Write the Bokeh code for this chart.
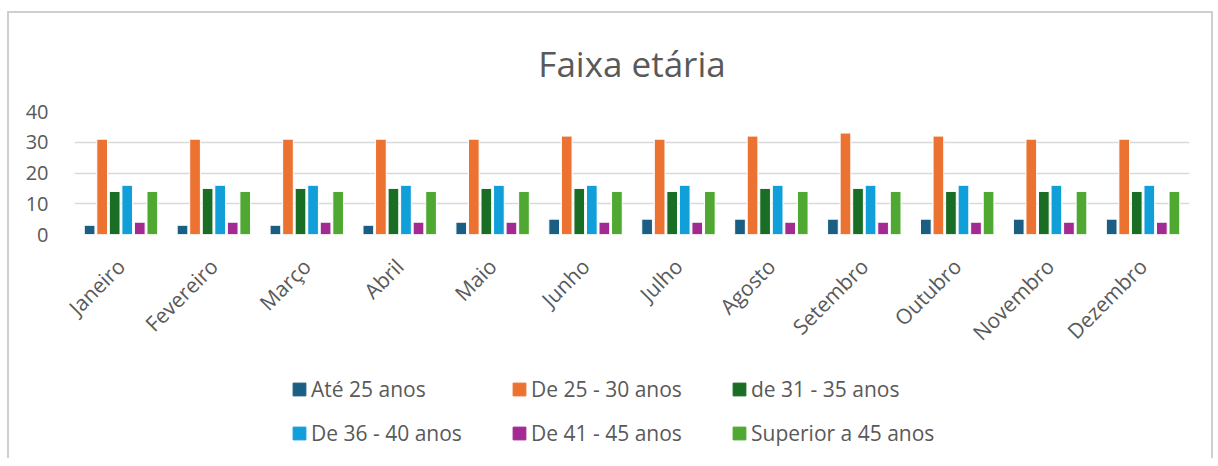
import math
from bokeh.plotting import figure
from bokeh.layouts import column
from bokeh.models import FactorRange, FixedTicker, Range1d, Legend, LegendItem
from bokeh.transform import dodge
from bokeh.embed import file_html
from bokeh.resources import INLINE

months = ["Janeiro", "Fevereiro", "Março", "Abril", "Maio", "Junho", "Julho",
          "Agosto", "Setembro", "Outubro", "Novembro", "Dezembro"]

series_names = ["Até 25 anos", "De 25 - 30 anos", "de 31 - 35 anos",
                "De 36 - 40 anos", "De 41 - 45 anos", "Superior a 45 anos"]

ate_25 = [3, 3, 3, 3, 4, 5, 5, 5, 5, 5, 5, 5]
de_25_30 = [31, 31, 31, 31, 31, 32, 31, 32, 33, 32, 31, 31]
de_31_35 = [14, 15, 15, 15, 15, 15, 14, 15, 15, 14, 14, 14]
de_36_40 = [16, 16, 16, 16, 16, 16, 16, 16, 16, 16, 16, 16]
de_41_45 = [4, 4, 4, 4, 4, 4, 4, 4, 4, 4, 4, 4]
sup_45 = [14, 14, 14, 14, 14, 14, 14, 14, 14, 14, 14, 14]

y_ticks = [0, 10, 20, 30, 40]

colors = ["#1b5e84", "#ec7232", "#1a6d25", "#109fd8", "#a32a93", "#4fa832"]
series = [ate_25, de_25_30, de_31_35, de_36_40, de_41_45, sup_45]
keys = ["s0", "s1", "s2", "s3", "s4", "s5"]

data = {"month": months}
for k, s in zip(keys, series):
    data[k] = s

TXT = "#595959"
FONT = "Open Sans"
BORDER = "2px solid #cfcfcf"

# ---- main chart ----
p = figure(x_range=FactorRange(factors=months), y_range=(0, 40),
           width=1206, height=346, output_backend="svg", toolbar_location=None,
           min_border_left=65, min_border_right=26, min_border_top=98,
           min_border_bottom=120, title="Faixa etária")
p.styles = {"border-left": BORDER, "border-top": BORDER, "border-right": BORDER}

step = 0.135
for i, (k, c) in enumerate(zip(keys, colors)):
    p.vbar(x=dodge("month", (i - 2.5) * step, range=p.x_range), top=k, width=0.115,
           source=data, fill_color=c, line_color="white", line_width=1)

p.title.align = "center"
p.title.text_font = FONT
p.title.text_font_size = "35px"
p.title.text_font_style = "normal"
p.title.text_color = TXT
p.title.standoff = 49

p.outline_line_color = None
p.xgrid.grid_line_color = None
p.ygrid.grid_line_color = "#d9d9d9"
p.ygrid.grid_line_width = 1.6
p.yaxis.ticker = FixedTicker(ticks=y_ticks)
p.yaxis.axis_line_color = None
p.yaxis.major_tick_line_color = None
p.yaxis.minor_tick_line_color = None
p.yaxis.major_label_standoff = 20
p.yaxis.major_label_text_font = FONT
p.yaxis.major_label_text_font_size = "20px"
p.yaxis.major_label_text_color = TXT

p.xaxis.axis_line_color = None
p.xaxis.major_tick_line_color = None
p.xaxis.minor_tick_line_color = None
p.xaxis.major_label_orientation = math.pi / 4
p.xaxis.major_label_standoff = 22
p.xaxis.major_label_text_font = FONT
p.xaxis.major_label_text_font_size = "21px"
p.xaxis.major_label_text_color = TXT

# ---- legend strip (proxy renderers kept outside the visible range) ----
q = figure(x_range=FactorRange(factors=months), y_range=Range1d(100, 101),
           width=1206, height=101, output_backend="svg", toolbar_location=None,
           min_border=0, x_axis_location=None, y_axis_location=None)
q.styles = {"border-left": BORDER, "border-right": BORDER}
q.outline_line_color = None
q.grid.grid_line_color = None

items = []
for i, (k, name, c) in enumerate(zip(keys, series_names, colors)):
    r = q.vbar(x=dodge("month", (i - 2.5) * step, range=q.x_range), top=k,
               width=0.115, source=data, fill_color=c, line_color=c)
    items.append(LegendItem(label=name, renderers=[r]))

lg = Legend(items=items, orientation="horizontal", ncols=3, location=(217, 11),
            padding=0, margin=0, border_line_color=None, background_fill_alpha=0,
            glyph_width=16, glyph_height=16, label_standoff=4, label_width=184,
            spacing=16, label_text_font=FONT, label_text_font_size="21px",
            label_text_color=TXT)
q.add_layout(lg, "center")

layout = column(p, q, spacing=0)
layout.styles = {"margin-left": "7px", "margin-top": "11px"}

open("out.html", "w").write(file_html(layout, INLINE))
